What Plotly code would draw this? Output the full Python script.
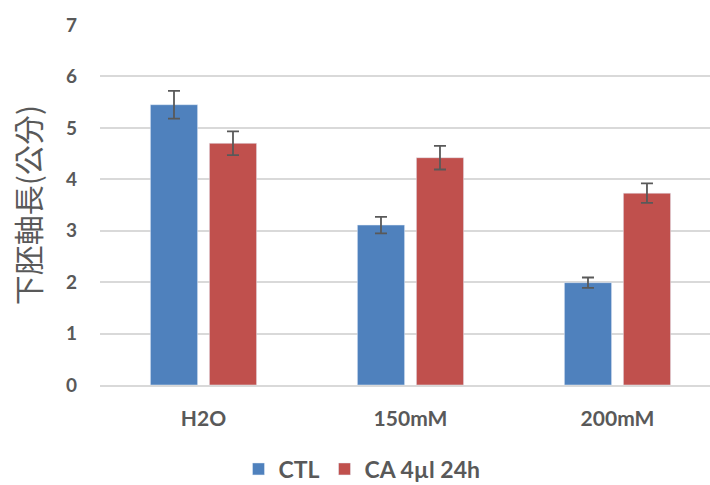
import plotly.graph_objects as go

categories = ["H2O", "150mM", "200mM"]
ctl_values = [5.45, 3.11, 1.99]
ctl_errors = [0.27, 0.16, 0.10]
ca_values = [4.70, 4.42, 3.73]
ca_errors = [0.23, 0.23, 0.19]
series_names = ["CTL", "CA 4µl 24h"]
y_title = "下胚軸長(公分)"

GREY = "#595959"
FONT = "Lato, 'Noto Sans CJK TC', sans-serif"

fig = go.Figure()
fig.add_trace(go.Bar(
    x=categories, y=ctl_values, name=series_names[0],
    marker=dict(color="#4f81bd"),
    error_y=dict(type="data", array=ctl_errors, color=GREY, thickness=1.8, width=6),
))
fig.add_trace(go.Bar(
    x=categories, y=ca_values, name=series_names[1],
    marker=dict(color="#c0504d"),
    error_y=dict(type="data", array=ca_errors, color=GREY, thickness=1.8, width=6),
))

fig.update_layout(
    width=710, height=485,
    margin=dict(l=100, r=0, t=25, b=100, autoexpand=False),
    paper_bgcolor="white", plot_bgcolor="white",
    barmode="group", bargap=0.43, bargroupgap=0.2,
    font=dict(family=FONT, color=GREY),
    showlegend=True,
    legend=dict(
        orientation="h", xref="container", yref="container",
        x=362 / 710, y=1 - 469 / 485, xanchor="center", yanchor="middle",
        font=dict(size=23, family=FONT, color=GREY, weight="bold"),
        itemwidth=30, traceorder="normal",
    ),
    xaxis=dict(
        type="category", range=[-0.5, 2.447], automargin=False,
        showline=True, linecolor="#d9d9d9", linewidth=1.5,
        showgrid=False, ticks="",
        tickfont=dict(size=21, family=FONT, color=GREY, weight="bold"),
        ticklabelstandoff=14,
    ),
    yaxis=dict(
        range=[0, 7], dtick=1, tick0=0, automargin=False,
        showgrid=True, gridcolor="#d9d9d9", gridwidth=1.5,
        zeroline=False, showline=False, ticks="",
        tickfont=dict(size=19, family=FONT, color=GREY, weight="bold"),
        ticklabelstandoff=22,
        title=dict(text=y_title, standoff=16,
                   font=dict(size=30, family="'Noto Sans CJK TC', sans-serif", color=GREY)),
    ),
)

fig.write_html(
    "out.html",
    config={"displayModeBar": False},
    post_script="document.body.style.margin='0';document.body.style.overflow='hidden';",
)
